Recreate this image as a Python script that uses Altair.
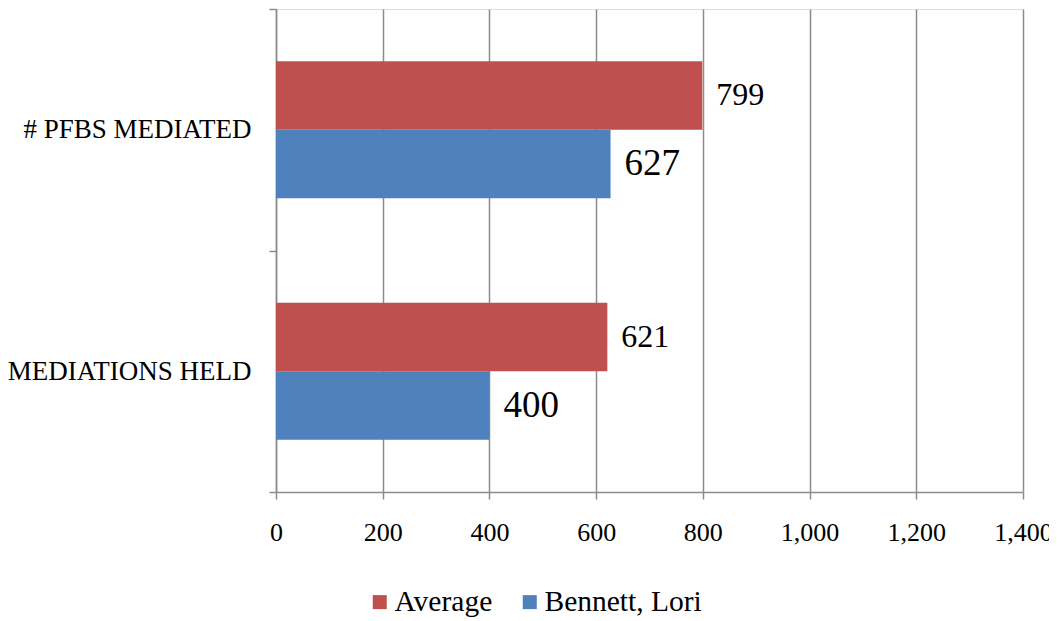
import altair as alt
import pandas as pd

categories = ["# PFBS MEDIATED", "MEDIATIONS HELD"]
series = ["Average", "Bennett, Lori"]
average_values = [799, 621]
bennett_values = [627, 400]
x_ticks = [0, 200, 400, 600, 800, 1000, 1200, 1400]

rows = []
for c, a, b in zip(categories, average_values, bennett_values):
    rows.append({"category": c, "series": series[0], "value": a})
    rows.append({"category": c, "series": series[1], "value": b})
df = pd.DataFrame(rows)

FONT = "Liberation Serif"
GRID = "#8c8c8c"

y_enc = alt.Y("category:N", sort=categories,
              scale=alt.Scale(paddingInner=0, paddingOuter=0),
              axis=alt.Axis(title=None, tickBand="extent", labelFont=FONT, labelFontSize=27,
                            labelColor="black", labelPadding=18, tickSize=7, tickColor=GRID,
                            domainColor=GRID, tickWidth=1.5, domainWidth=1.5, grid=False,
                            labelLimit=0))
yoff = alt.YOffset("series:N", sort=series,
                   scale=alt.Scale(paddingInner=0, paddingOuter=0.7625))

bars = alt.Chart(df).mark_bar().encode(
    x=alt.X("value:Q", scale=alt.Scale(domain=[0, 1400], nice=False),
            axis=alt.Axis(title=None, values=x_ticks, format=",d", labelFont=FONT,
                          labelFontSize=26, labelColor="black", labelPadding=20,
                          labelFlush=False,
                          tickSize=7, tickColor=GRID, domainColor=GRID, gridColor=GRID,
                          tickWidth=1.5, domainWidth=1.5, gridWidth=1.5, grid=True)),
    y=y_enc,
    yOffset=yoff,
    color=alt.Color("series:N", sort=series,
                    scale=alt.Scale(domain=series, range=["#C0504D", "#4F81BD"]),
                    legend=alt.Legend(title=None, orient="none", direction="horizontal",
                                      legendX=89, legendY=578, padding=0, symbolType="square",
                                      symbolSize=196, symbolStrokeWidth=0,
                                      labelFont=FONT, labelFontSize=29.5, labelColor="black",
                                      labelOffset=0, columnPadding=22)),
)

labels = alt.Chart(df).mark_text(align="left", baseline="middle", dx=14, font=FONT,
                                 color="black").encode(
    x="value:Q",
    y=alt.Y("category:N", sort=categories),
    yOffset=yoff,
    text=alt.Text("value:Q", format="d"),
    size=alt.condition(alt.datum.series == "Average", alt.value(32), alt.value(37)),
)

chart = (bars + labels).properties(
    width=747, height=483,
    padding={"left": 268, "top": 1, "right": 26, "bottom": 128},
    autosize=alt.AutoSizeParams(type="none"),
).configure_view(stroke=None).configure(background="white")

chart.save("out.html", embed_options={"renderer": "svg", "actions": False})
